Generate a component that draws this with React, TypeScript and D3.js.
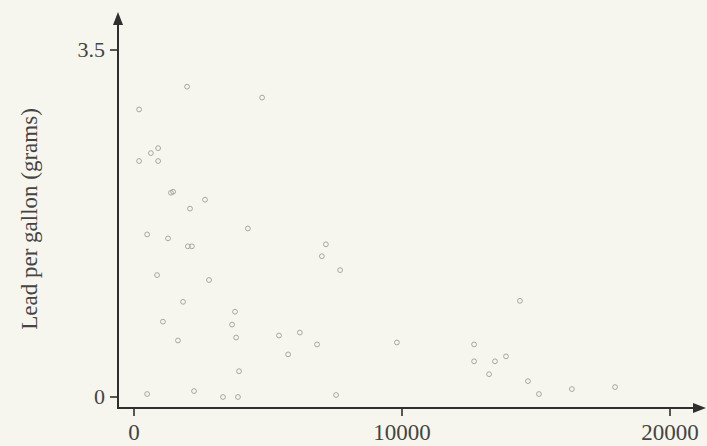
import React from "react";
import * as d3 from "d3";

// income (x) vs lead per gallon in grams (y)
const incomes = [
  190, 1980, 4780, 900, 630, 190, 900, 1380, 1460, 2650, 2090, 4250, 490, 1270,
  2010, 2160, 860, 2800, 1830, 3770, 1080, 3660, 1640, 3810, 5410, 6190, 6830,
  5750, 7160, 7010, 7690, 9810, 3920, 490, 2240, 3320, 3880, 7540, 14400, 12690,
  12690, 13470, 13880, 13250, 14700, 15110, 16340, 17950,
];
const leadGrams = [
  2.9, 3.13, 3.02, 2.51, 2.46, 2.38, 2.38, 2.06, 2.07, 1.99, 1.9, 1.7, 1.64, 1.6,
  1.52, 1.52, 1.23, 1.18, 0.96, 0.86, 0.76, 0.73, 0.57, 0.6, 0.62, 0.65, 0.53,
  0.43, 1.54, 1.42, 1.28, 0.55, 0.26, 0.03, 0.06, 0.0, 0.0, 0.02, 0.97, 0.53,
  0.36, 0.36, 0.41, 0.23, 0.16, 0.03, 0.08, 0.1,
];
const xTicks = [0, 10000, 20000];
const yTicks = [0, 3.5];
const yTickLabels = ["0", "3.5"];
const yLabel = "Lead per gallon (grams)";

const W = 707;
const H = 446;

export default function App() {
  const x = d3.scaleLinear().domain([0, 20000]).range([134, 670]);
  const y = d3.scaleLinear().domain([0, 3.5]).range([397, 50]);

  const axisX = 118;
  const axisY = 408;
  const ink = "#2f2f2f";
  const font = "'Liberation Serif', 'DejaVu Serif', serif";

  const points = incomes.map((v, i) => ({ x: v, y: leadGrams[i] }));

  return (
    <div style={{ position: "fixed", left: 0, top: 0 }}>
      <svg width={W} height={H} style={{ display: "block" }}>
        <rect width={W} height={H} fill="#f7f6ee" />

        {/* axes */}
        <line x1={axisX} y1={axisY + 1} x2={axisX} y2={22} stroke={ink} strokeWidth={2} />
        <path d={`M${axisX},12 L${axisX - 5},25 L${axisX + 5},25 Z`} fill={ink} />
        <line x1={axisX - 1} y1={axisY} x2={696} y2={axisY} stroke={ink} strokeWidth={2} />
        <path d={`M706,${axisY} L693,${axisY - 5} L693,${axisY + 5} Z`} fill={ink} />

        {/* y ticks */}
        {yTicks.map((t, i) => (
          <g key={"y" + i}>
            <line x1={axisX - 8} x2={axisX} y1={y(t)} y2={y(t)} stroke={ink} strokeWidth={1.6} />
            <text
              x={axisX - 13}
              y={y(t) + 7}
              textAnchor="end"
              fontFamily={font}
              fontSize={22}
              fill="#444"
            >
              {yTickLabels[i]}
            </text>
          </g>
        ))}

        {/* x ticks */}
        {xTicks.map((t) => (
          <g key={"x" + t}>
            <line x1={x(t)} x2={x(t)} y1={axisY} y2={axisY + 8} stroke={ink} strokeWidth={1.6} />
            <text
              x={x(t)}
              y={440}
              textAnchor="middle"
              fontFamily={font}
              fontSize={23}
              fill="#444"
            >
              {d3.format("d")(t)}
            </text>
          </g>
        ))}

        <text
          transform="translate(37,219) rotate(-90)"
          textAnchor="middle"
          fontFamily={font}
          fontSize={23}
          fill="#444"
        >
          {yLabel}
        </text>

        {/* points */}
        {points.map((p, i) => (
          <circle
            key={i}
            cx={x(p.x)}
            cy={y(p.y)}
            r={2.4}
            fill="none"
            stroke="#a6a6a0"
            strokeWidth={1}
          />
        ))}
      </svg>
    </div>
  );
}
